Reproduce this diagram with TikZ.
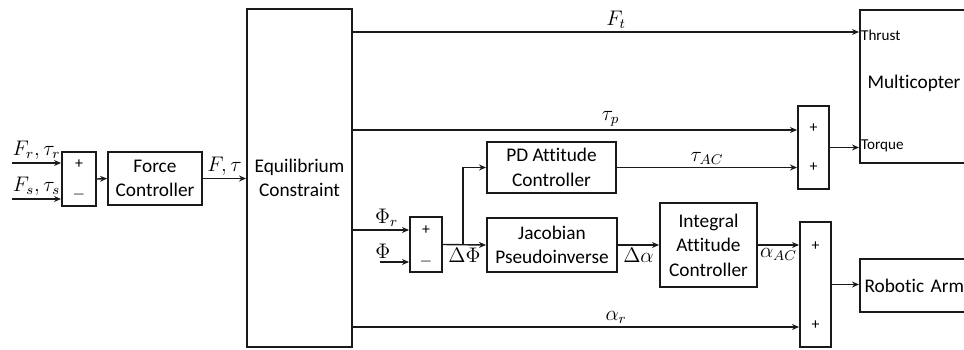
\documentclass[tikz,border=0pt]{standalone}
\usepackage{fontspec}
\setmainfont[Ligatures=NoCommon]{Carlito}
\usetikzlibrary{arrows.meta}
\definecolor{BDLine}{HTML}{1A1A1A}

\tikzset{
  blk/.style={draw=BDLine,line width=1.1pt,align=center,inner sep=1pt,
    font=\fontsize{11}{14}\selectfont},
  sumbox/.style={draw=BDLine,line width=1.1pt,inner sep=0pt},
  sig/.style={draw=BDLine,line width=0.8pt,-{Stealth[length=4pt,width=3.4pt]}},
  sgn/.style={font=\fontsize{9}{10}\selectfont,inner sep=0pt},
  port/.style={font=\fontsize{8.6}{10}\selectfont,anchor=west,inner sep=1pt},
  lbl/.style={font=\fontsize{12}{14}\selectfont,inner sep=1.5pt}
}

\begin{document}
\begin{tikzpicture}[x=0.02cm,y=-0.02cm]
\path[use as bounding box] (0,0) rectangle (964,349);
% blocks
\node[sumbox,minimum width=0.68cm,minimum height=1.08cm] (sum1) at (79,179) {};
\node[blk,minimum width=1.88cm,minimum height=1.06cm] (fc) at (155,178.5) {Force\\Controller};
\node[blk,minimum width=2.10cm,minimum height=6.76cm] (eq) at (299.5,178) {Equilibrium\\Constraint};
\node[sumbox,minimum width=0.64cm,minimum height=1.10cm] (sum2) at (426,244.5) {};
\node[blk,minimum width=2.58cm,minimum height=1.02cm] (pd) at (551.5,167.5) {PD Attitude\\Controller};
\node[blk,minimum width=2.60cm,minimum height=1.08cm] (jac) at (552,245) {Jacobian\\Pseudoinverse};
\node[blk,minimum width=1.94cm,minimum height=1.68cm] (int) at (708.5,245) {Integral\\Attitude\\Controller};
\node[sumbox,minimum width=0.62cm,minimum height=1.66cm] (sum3) at (813.5,147.5) {};
\node[sumbox,minimum width=0.62cm,minimum height=2.50cm] (sum4) at (815.5,284.5) {};
\node[blk,minimum width=2.28cm,minimum height=3.06cm] (mc) at (917,86.5) {};
\node[blk,draw=none] (mctxt) at (914,83) {Multicopter};
\node[blk,minimum width=2.28cm,minimum height=1.06cm,text width=2.1cm,align=left] (arm) at (917,285.5) {Robotic Arm};

% signs
\node[sgn] (s1a) at (79,164) {+};
\node[sgn] (s1b) at (79,195) {$-$};
\node[sgn] (s2a) at (426,230) {+};
\node[sgn] (s2b) at (426,262) {$-$};
\node[sgn] (s3a) at (813.5,128) {+};
\node[sgn] (s3b) at (813.5,167) {+};
\node[sgn] (s4a) at (815.5,246) {+};
\node[sgn] (s4b) at (815.5,325) {+};

% ports
\node[port] (thr) at (mc.west |- 0,35) {Thrust};
\node[port] (trq) at (mc.west |- 0,146) {Torque};

% inputs
\coordinate (in1) at (12,163);
\coordinate (in2) at (12,199);
\coordinate (phiin) at (380,262);
\coordinate (br) at (463,244.5);

% signals
\draw[sig] (in1) -- (in1 -| sum1.west) node[lbl,midway,above] {$F_r,\tau_r$};
\draw[sig] (in2) -- (in2 -| sum1.west) node[lbl,midway,above] {$F_s,\tau_s$};
\draw[sig] (sum1.east) -- (fc.west);
\draw[sig] (fc.east) -- (fc.east -| eq.west) node[lbl,midway,above] {$F,\tau$};
\draw[sig] (eq.east |- 0,32) -- (mc.west |- 0,32) node[lbl,pos=0.52,above] {$F_t$};
\draw[sig] (eq.east |- 0,130) -- (sum3.west |- 0,130) node[lbl,pos=0.58,above] {$\tau_p$};
\draw[sig] (eq.east |- 0,230) -- (sum2.west |- 0,230) node[lbl,pos=0.6,above] {$\Phi_r$};
\draw[sig] (phiin) -- (phiin -| sum2.west) node[lbl,pos=0.1,above] {$\Phi$};
\draw[sig] (sum2.east) -- (jac.west) node[lbl,midway,below] {$\Delta\Phi$};
\draw[sig] (br) |- (pd.west);
\draw[sig] (pd.east) -- (pd.east -| sum3.west) node[lbl,midway,above] {$\tau_{AC}$};
\draw[sig] (jac.east) -- (int.west) node[lbl,midway,below] {$\Delta\alpha$};
\draw[sig] (int.east) -- (int.east -| sum4.west) node[lbl,midway,below] {$\alpha_{AC}$};
\draw[sig] (eq.east |- 0,327) -- (sum4.west |- 0,327) node[lbl,pos=0.59,above] {$\alpha_r$};
\draw[sig] (sum3.east) -- (sum3.east -| mc.west);
\draw[sig] (sum4.east) -- (sum4.east -| arm.west);
\end{tikzpicture}
\end{document}
